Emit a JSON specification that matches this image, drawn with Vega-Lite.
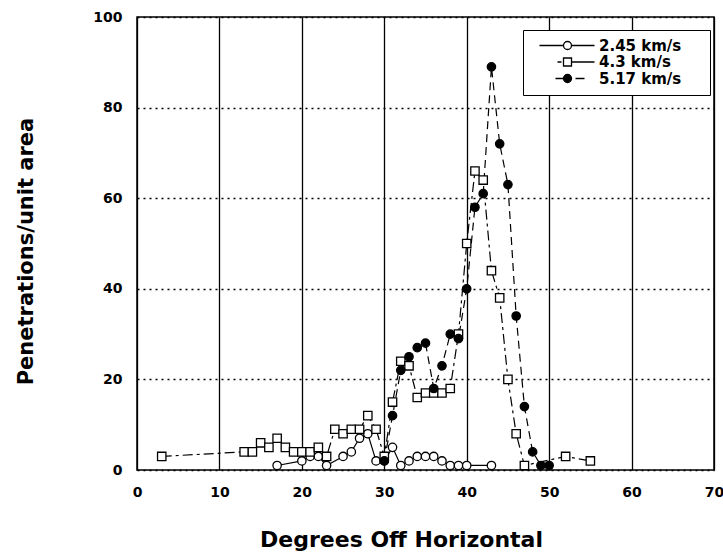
{
  "$schema": "https://vega.github.io/schema/vega-lite/v6.json",
  "width": 577,
  "height": 453,
  "autosize": "none",
  "padding": {"left": 137, "top": 17, "right": 9, "bottom": 88},
  "background": "white",
  "config": {
    "view": {"stroke": "black", "strokeWidth": 1.5},
    "font": "DejaVu Sans"
  },
  "data": {
    "values": [
      {"series": "2.45 km/s", "x": 17, "y": 1},
      {"series": "2.45 km/s", "x": 20, "y": 2},
      {"series": "2.45 km/s", "x": 21, "y": 3},
      {"series": "2.45 km/s", "x": 22, "y": 3},
      {"series": "2.45 km/s", "x": 23, "y": 1},
      {"series": "2.45 km/s", "x": 25, "y": 3},
      {"series": "2.45 km/s", "x": 26, "y": 4},
      {"series": "2.45 km/s", "x": 27, "y": 7},
      {"series": "2.45 km/s", "x": 28, "y": 8},
      {"series": "2.45 km/s", "x": 29, "y": 2},
      {"series": "2.45 km/s", "x": 30, "y": 2},
      {"series": "2.45 km/s", "x": 31, "y": 5},
      {"series": "2.45 km/s", "x": 32, "y": 1},
      {"series": "2.45 km/s", "x": 33, "y": 2},
      {"series": "2.45 km/s", "x": 34, "y": 3},
      {"series": "2.45 km/s", "x": 35, "y": 3},
      {"series": "2.45 km/s", "x": 36, "y": 3},
      {"series": "2.45 km/s", "x": 37, "y": 2},
      {"series": "2.45 km/s", "x": 38, "y": 1},
      {"series": "2.45 km/s", "x": 39, "y": 1},
      {"series": "2.45 km/s", "x": 40, "y": 1},
      {"series": "2.45 km/s", "x": 43, "y": 1},
      {"series": "4.3 km/s", "x": 3, "y": 3},
      {"series": "4.3 km/s", "x": 13, "y": 4},
      {"series": "4.3 km/s", "x": 14, "y": 4},
      {"series": "4.3 km/s", "x": 15, "y": 6},
      {"series": "4.3 km/s", "x": 16, "y": 5},
      {"series": "4.3 km/s", "x": 17, "y": 7},
      {"series": "4.3 km/s", "x": 18, "y": 5},
      {"series": "4.3 km/s", "x": 19, "y": 4},
      {"series": "4.3 km/s", "x": 20, "y": 4},
      {"series": "4.3 km/s", "x": 21, "y": 4},
      {"series": "4.3 km/s", "x": 22, "y": 5},
      {"series": "4.3 km/s", "x": 23, "y": 3},
      {"series": "4.3 km/s", "x": 24, "y": 9},
      {"series": "4.3 km/s", "x": 25, "y": 8},
      {"series": "4.3 km/s", "x": 26, "y": 9},
      {"series": "4.3 km/s", "x": 27, "y": 9},
      {"series": "4.3 km/s", "x": 28, "y": 12},
      {"series": "4.3 km/s", "x": 29, "y": 9},
      {"series": "4.3 km/s", "x": 30, "y": 3},
      {"series": "4.3 km/s", "x": 31, "y": 15},
      {"series": "4.3 km/s", "x": 32, "y": 24},
      {"series": "4.3 km/s", "x": 33, "y": 23},
      {"series": "4.3 km/s", "x": 34, "y": 16},
      {"series": "4.3 km/s", "x": 35, "y": 17},
      {"series": "4.3 km/s", "x": 36, "y": 17},
      {"series": "4.3 km/s", "x": 37, "y": 17},
      {"series": "4.3 km/s", "x": 38, "y": 18},
      {"series": "4.3 km/s", "x": 39, "y": 30},
      {"series": "4.3 km/s", "x": 40, "y": 50},
      {"series": "4.3 km/s", "x": 41, "y": 66},
      {"series": "4.3 km/s", "x": 42, "y": 64},
      {"series": "4.3 km/s", "x": 43, "y": 44},
      {"series": "4.3 km/s", "x": 44, "y": 38},
      {"series": "4.3 km/s", "x": 45, "y": 20},
      {"series": "4.3 km/s", "x": 46, "y": 8},
      {"series": "4.3 km/s", "x": 47, "y": 1},
      {"series": "4.3 km/s", "x": 52, "y": 3},
      {"series": "4.3 km/s", "x": 55, "y": 2},
      {"series": "5.17 km/s", "x": 30, "y": 2},
      {"series": "5.17 km/s", "x": 31, "y": 12},
      {"series": "5.17 km/s", "x": 32, "y": 22},
      {"series": "5.17 km/s", "x": 33, "y": 25},
      {"series": "5.17 km/s", "x": 34, "y": 27},
      {"series": "5.17 km/s", "x": 35, "y": 28},
      {"series": "5.17 km/s", "x": 36, "y": 18},
      {"series": "5.17 km/s", "x": 37, "y": 23},
      {"series": "5.17 km/s", "x": 38, "y": 30},
      {"series": "5.17 km/s", "x": 39, "y": 29},
      {"series": "5.17 km/s", "x": 40, "y": 40},
      {"series": "5.17 km/s", "x": 41, "y": 58},
      {"series": "5.17 km/s", "x": 42, "y": 61},
      {"series": "5.17 km/s", "x": 43, "y": 89},
      {"series": "5.17 km/s", "x": 44, "y": 72},
      {"series": "5.17 km/s", "x": 45, "y": 63},
      {"series": "5.17 km/s", "x": 46, "y": 34},
      {"series": "5.17 km/s", "x": 47, "y": 14},
      {"series": "5.17 km/s", "x": 48, "y": 4},
      {"series": "5.17 km/s", "x": 49, "y": 1},
      {"series": "5.17 km/s", "x": 50, "y": 1}
    ]
  },
  "encoding": {
    "x": {
      "field": "x",
      "type": "quantitative",
      "scale": {"domain": [0, 70], "nice": false, "zero": false},
      "axis": {
        "title": "Degrees Off Horizontal",
        "titleFont": "DejaVu Sans",
        "titleFontWeight": "bold",
        "titleFontSize": 22,
        "titleColor": "black",
        "titleX": 264,
        "titleAlign": "center",
        "titlePadding": 30,
        "values": [0, 10, 20, 30, 40, 50, 60, 70],
        "labelFont": "DejaVu Sans",
        "labelFontWeight": "bold",
        "labelFontSize": 14,
        "labelColor": "black",
        "labelPadding": 15,
        "labelFlush": false,
        "ticks": false,
        "domain": false,
        "grid": true,
        "gridColor": "black",
        "gridWidth": 1.3,
        "gridOpacity": 1
      }
    },
    "y": {
      "field": "y",
      "type": "quantitative",
      "scale": {"domain": [0, 100], "nice": false},
      "axis": {
        "title": "Penetrations/unit area",
        "titleFont": "DejaVu Sans",
        "titleFontWeight": "bold",
        "titleFontSize": 21,
        "titleColor": "black",
        "titleAngle": 270,
        "titleX": -111,
        "titleY": 234,
        "titleAlign": "center",
        "titleBaseline": "middle",
        "values": [0, 20, 40, 60, 80, 100],
        "labelFont": "DejaVu Sans",
        "labelFontWeight": "bold",
        "labelFontSize": 14,
        "labelColor": "black",
        "labelPadding": 15,
        "labelFlush": false,
        "ticks": false,
        "domain": false,
        "grid": true,
        "gridColor": "black",
        "gridWidth": 1.5,
        "gridDash": [2, 4],
        "gridOpacity": 1
      }
    }
  },
  "layer": [
    {
      "transform": [{"filter": "datum.series == '2.45 km/s'"}],
      "mark": {"type": "line", "color": "black", "strokeWidth": 1.2},
      "encoding": {}
    },
    {
      "transform": [{"filter": "datum.series == '4.3 km/s'"}],
      "mark": {"type": "line", "color": "black", "strokeWidth": 1.2, "strokeDash": [10, 4, 3, 4]},
      "encoding": {}
    },
    {
      "transform": [{"filter": "datum.series == '5.17 km/s'"}],
      "mark": {"type": "line", "color": "black", "strokeWidth": 1.2, "strokeDash": [8, 5]},
      "encoding": {}
    },
    {
      "transform": [{"filter": "datum.series == '2.45 km/s'"}],
      "mark": {"type": "point", "shape": "circle", "filled": true, "stroke": "black", "strokeWidth": 1.3, "opacity": 1, "size": 70},
      "encoding": {
        "fill": {
          "field": "series",
          "type": "nominal",
          "scale": {
            "domain": ["2.45 km/s", "4.3 km/s", "5.17 km/s"],
            "range": ["white", "white", "black"]
          },
          "legend": {
            "orient": "none",
            "legendX": 386,
            "legendY": 13,
            "title": " ",
            "titleOrient": "right",
            "titlePadding": 21,
            "titleFontSize": 10,
            "strokeColor": "black",
            "fillColor": "white",
            "padding": 8,
            "labelFont": "DejaVu Sans",
            "labelFontWeight": "bold",
            "labelFontSize": 15,
            "labelColor": "black",
            "symbolOffset": 29,
            "labelOffset": 24,
            "rowPadding": 0.5,
            "symbolSize": 100,
            "symbolStrokeColor": "black",
            "symbolStrokeWidth": 1.3,
            "encoding": {
              "symbols": {
                "shape": {"value": {"expr": "datum.value == '2.45 km/s' ? 'M-5.6,0H-0.8 M0.8,0H5.4 M-0.8,0A0.8,0.8 0 1,0 0.8,0A0.8,0.8 0 1,0 -0.8,0Z' : datum.value == '4.3 km/s' ? 'M-2.0,0H-1.2 M0.8,0H5.4 M-0.8,-0.8H0.8V0.8H-0.8Z' : 'M-2.4,0H-0.8 M1.6,0H3.4 M-0.8,0A0.8,0.8 0 1,0 0.8,0A0.8,0.8 0 1,0 -0.8,0Z'"}},
                "size": {"value": 100},
                "stroke": {"value": "black"},
                "strokeWidth": {"value": 1.3}
              }
            }
          }
        }
      }
    },
    {
      "transform": [{"filter": "datum.series == '4.3 km/s'"}],
      "mark": {"type": "point", "shape": "square", "filled": true, "stroke": "black", "strokeWidth": 1.3, "opacity": 1, "size": 70},
      "encoding": {
        "fill": {"field": "series", "type": "nominal"}
      }
    },
    {
      "transform": [{"filter": "datum.series == '5.17 km/s'"}],
      "mark": {"type": "point", "shape": "circle", "filled": true, "stroke": "black", "strokeWidth": 1.3, "opacity": 1, "size": 70},
      "encoding": {
        "fill": {"field": "series", "type": "nominal"}
      }
    }
  ]
}
